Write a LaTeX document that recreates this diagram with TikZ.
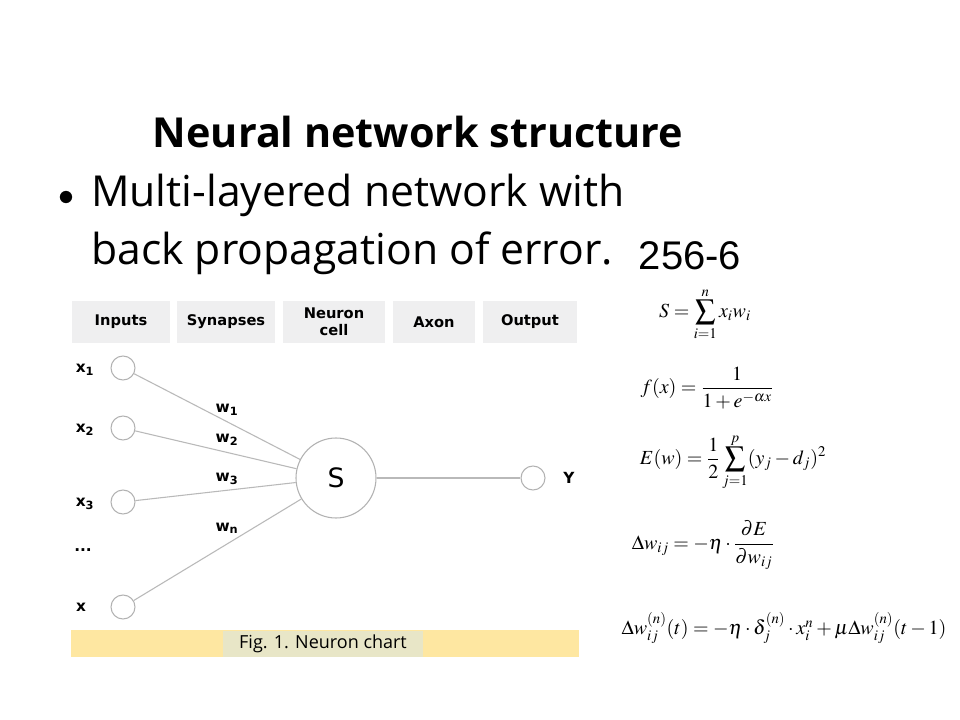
\documentclass[tikz,border=0pt]{standalone}
\usepackage{amsmath}
\usepackage{mathptmx}
\usepackage{fontspec}
\setmainfont{Liberation Serif}
\newfontfamily\slidefont{Open Sans}
\newfontfamily\chartfont{DejaVu Sans}
\newfontfamily\arialfont{Liberation Sans}
\begin{document}
\begin{tikzpicture}[x=0.75pt,y=-0.75pt,
    head/.style={fill=blue!4!gray!12, minimum height=31.5pt, inner sep=0pt, font=\chartfont\bfseries\fontsize{11}{12.5}\selectfont, align=center},
    unit/.style={circle, draw=gray!60, thick, fill=white, minimum size=18pt, inner sep=0pt},
    syn/.style={draw=gray!55, thick},
    lab/.style={font=\chartfont\bfseries\fontsize{11.5}{13}\selectfont},
    eq/.style={font=\fontsize{15}{18}\selectfont}]
\useasboundingbox (0,0) rectangle (960,720);
\fill[white] (0,0) rectangle (960,720);

% title and bullet text
\node[font=\slidefont\bfseries\fontsize{31}{36}\selectfont] (title) at (418,132) {Neural network structure};
\node[font=\fontsize{24}{24}\selectfont] (bullet) at (66,199) {$\bullet$};
\node[font=\slidefont\fontsize{32}{43.5}\selectfont, anchor=north west, align=left, inner sep=0pt] (text) at (91,174) {Multi-layered network with\\back propagation of error.};
\node[font=\arialfont\fontsize{30}{36}\selectfont] (code) at (690,256) {256-6};

% header cells
\node[head, minimum width=73.5pt] (inputs) at (121,322) {Inputs};
\node[head, minimum width=73.5pt] (synapses) at (226,322) {Synapses};
\node[head, minimum width=77pt] (cell) at (334,322) {Neuron\\cell};
\node[head, minimum width=62pt] (axon) at (434,322) {Axon};
\node[head, minimum width=70pt] (output) at (530,322) {Output};

% inputs and neuron
\node[unit] (x1) at (123,368) {};
\node[unit] (x2) at (123,428) {};
\node[unit] (x3) at (123,502) {};
\node[unit] (xn) at (123,607) {};
\node[unit, minimum size=60pt, font=\chartfont\fontsize{20}{24}\selectfont] (s) at (336,478) {S};
\node[unit] (y) at (533,478) {};

\draw[syn] (x1) -- (s);
\draw[syn] (x2) -- (s);
\draw[syn] (x3) -- (s);
\draw[syn] (xn) -- (s);
\draw[syn] (s) -- (y);

\node[lab] (lx1) at (85,370) {x\textsubscript{1}};
\node[lab] (lx2) at (85,430) {x\textsubscript{2}};
\node[lab] (lx3) at (85,504) {x\textsubscript{3}};
\node[lab] (ldots) at (83,550) {...};
\node[lab] (lxn) at (81,607) {x};
\node[lab] (ly) at (569,478) {Y};
\node[lab] (w1) at (227,410) {w\textsubscript{1}};
\node[lab] (w2) at (227,440) {w\textsubscript{2}};
\node[lab] (w3) at (227,479) {w\textsubscript{3}};
\node[lab] (wn) at (227,528) {w\textsubscript{n}};

% caption
\fill[yellow!55!orange!35] (71,630) rectangle (579,657);
\node[fill=yellow!40!gray!35, minimum width=150pt, minimum height=20pt, inner sep=0pt, font=\slidefont\fontsize{13.5}{15}\selectfont] (caption) at (323,644) {Fig. 1. Neuron chart};

% formulas
\node[eq] (fs) at (705,314) {$\displaystyle S=\sum_{i=1}^{n}x_iw_i$};
\node[eq] (ff) at (707,388) {$\displaystyle f(x)=\frac{1}{1+e^{-\alpha x}}$};
\node[eq] (fe) at (733,462) {$\displaystyle E(w)=\frac{1}{2}\sum_{j=1}^{p}(y_j-d_j)^2$};
\node[eq] (fd) at (703,545) {$\displaystyle \Delta w_{ij}=-\eta\cdot\frac{\partial E}{\partial w_{ij}}$};
\node[eq] (fu) at (784,628) {$\Delta w_{ij}^{(n)}(t)=-\eta\cdot\delta_j^{(n)}\cdot x_i^n+\mu\Delta w_{ij}^{(n)}(t-1)$};
\end{tikzpicture}
\end{document}
